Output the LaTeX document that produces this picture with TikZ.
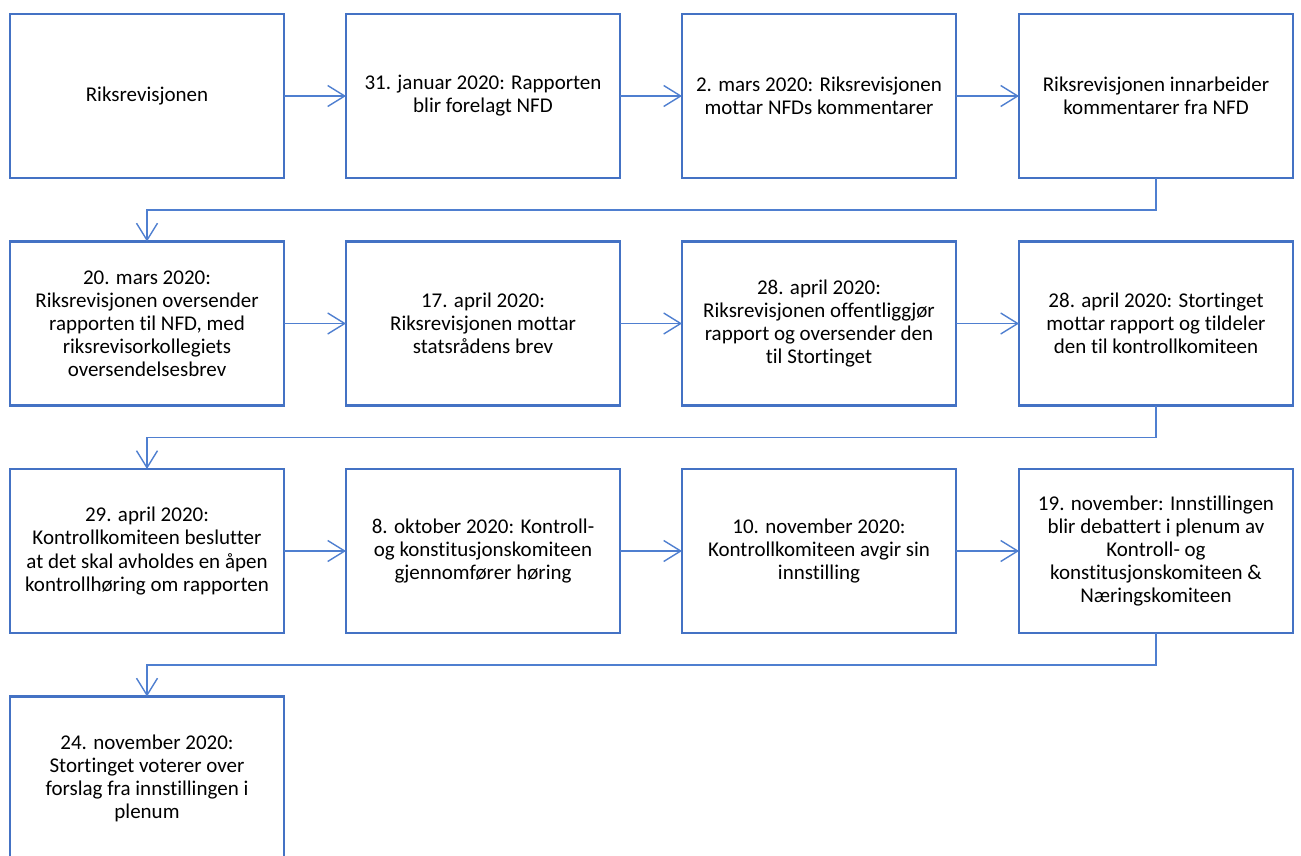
\documentclass[tikz,border=0pt]{standalone}
\usepackage{fontspec}
\setmainfont{Carlito}[Ligatures=NoCommon]
\usetikzlibrary{arrows.meta}
\definecolor{boxblue}{HTML}{4472C4}
\definecolor{lineblue}{HTML}{4F7FD0}
\tikzset{
  stepbox/.style={draw=boxblue, line width=2.6pt, fill=white, minimum width=274pt, minimum height=164pt,
    inner sep=0pt, outer sep=0pt, align=center, font=\fontsize{21}{23.1}\selectfont, text=black},
  conn/.style={draw=lineblue, line width=1.4pt, -{Straight Barb[length=17pt,width=21pt,line width=1.4pt]}},
}
\begin{document}
\begin{tikzpicture}[x=1pt,y=-1pt]
\useasboundingbox (0,0) rectangle (1301,855);
\clip (0,0) rectangle (1301,855);
\node[stepbox] (b1) at (147,96) {Riksrevisjonen};
\node[stepbox] (b2) at (483,96) {31. januar 2020: Rapporten\\blir forelagt NFD};
\node[stepbox] (b3) at (819,96) {2. mars 2020: Riksrevisjonen\\mottar NFDs kommentarer};
\node[stepbox] (b4) at (1156,96) {Riksrevisjonen innarbeider\\kommentarer fra NFD};
\node[stepbox] (b5) at (147,323.5) {20. mars 2020:\\Riksrevisjonen oversender\\rapporten til NFD, med\\riksrevisorkollegiets\\oversendelsesbrev};
\node[stepbox] (b6) at (483,323.5) {17. april 2020:\\Riksrevisjonen mottar\\statsrådens brev};
\node[stepbox] (b7) at (819,323.5) {28. april 2020:\\Riksrevisjonen offentliggjør\\rapport og oversender den\\til Stortinget};
\node[stepbox] (b8) at (1156,323.5) {28. april 2020: Stortinget\\mottar rapport og tildeler\\den til kontrollkomiteen};
\node[stepbox] (b9) at (147,551) {29. april 2020:\\Kontrollkomiteen beslutter\\at det skal avholdes en åpen\\kontrollhøring om rapporten};
\node[stepbox] (b10) at (483,551) {8. oktober 2020: Kontroll-\\og konstitusjonskomiteen\\gjennomfører høring};
\node[stepbox] (b11) at (819,551) {10. november 2020:\\Kontrollkomiteen avgir sin\\innstilling};
\node[stepbox] (b12) at (1156,551) {19. november: Innstillingen\\blir debattert i plenum av\\Kontroll- og\\konstitusjonskomiteen \&\\Næringskomiteen};
\node[stepbox] (b13) at (147,778.5) {24. november 2020:\\Stortinget voterer over\\forslag fra innstillingen i\\plenum};
\coordinate (e1) at (0,210);
\coordinate (e2) at (0,437.5);
\coordinate (e3) at (0,665);
\draw[conn] (b1) -- (b2);
\draw[conn] (b2) -- (b3);
\draw[conn] (b3) -- (b4);
\draw[conn] (b4.south) -- (b4.south |- e1) -| (b5.north);
\draw[conn] (b5) -- (b6);
\draw[conn] (b6) -- (b7);
\draw[conn] (b7) -- (b8);
\draw[conn] (b8.south) -- (b8.south |- e2) -| (b9.north);
\draw[conn] (b9) -- (b10);
\draw[conn] (b10) -- (b11);
\draw[conn] (b11) -- (b12);
\draw[conn] (b12.south) -- (b12.south |- e3) -| (b13.north);
\end{tikzpicture}
\end{document}
